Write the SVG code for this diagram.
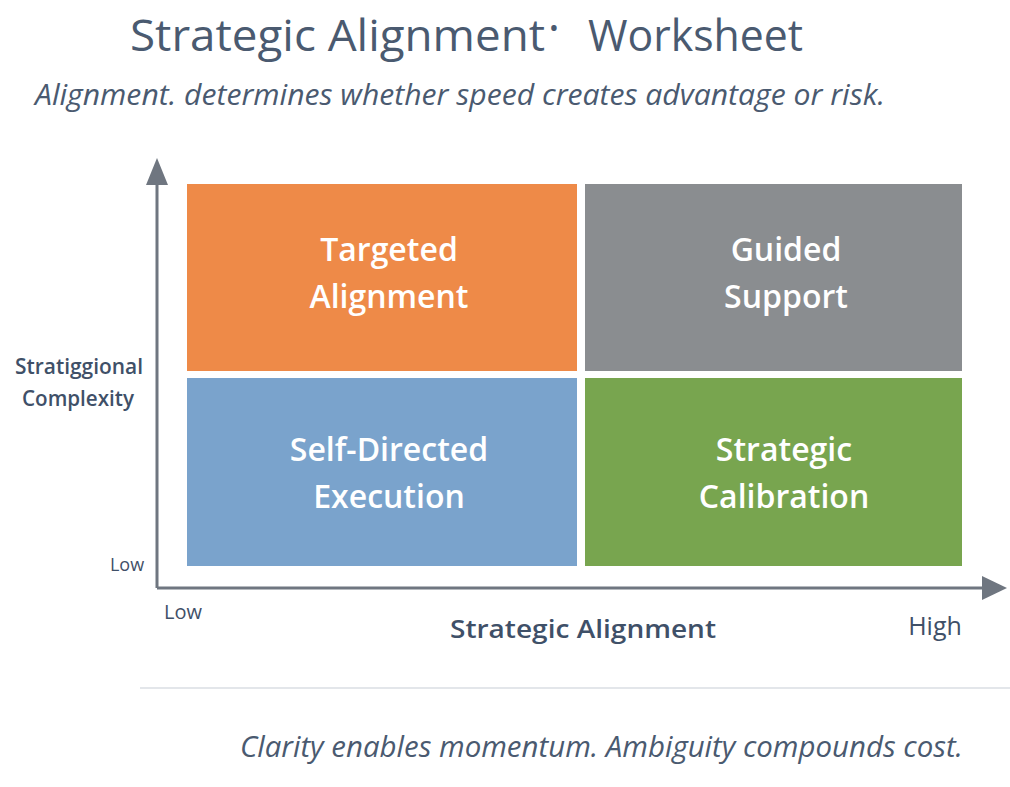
<svg xmlns="http://www.w3.org/2000/svg" width="1010" height="787" viewBox="0 0 1010 787">
<style>
.t{font-family:"Open Sans","Noto Sans","DejaVu Sans",sans-serif;fill:#4a5a70}
.q{font-family:"Open Sans","Noto Sans",sans-serif;fill:#ffffff;font-size:32px;font-weight:600;text-anchor:middle}
.ax{font-family:"Open Sans","Noto Sans",sans-serif;fill:#3f5068}
.axis{stroke:#6f7680;stroke-width:3;fill:none}
</style>
<rect width="1010" height="787" fill="#ffffff"/>
<g id="title">
<text class="t" x="130" y="51" font-size="44" textLength="415" lengthAdjust="spacingAndGlyphs">Strategic Alignment</text>
<text class="t" x="554" y="37" font-size="26" text-anchor="middle">•</text>
<text class="t" x="588" y="51" font-size="44" textLength="215" lengthAdjust="spacingAndGlyphs">Worksheet</text>
<text class="t" x="35" y="105" font-size="29" font-style="italic" textLength="850" lengthAdjust="spacingAndGlyphs">Alignment. determines whether speed creates advantage or risk.</text>
</g>
<g id="connectors">
<path class="axis" d="M157,588 V183"/>
<path d="M157,158 L146,185 L168,185 z" fill="#6f7680"/>
<path class="axis" d="M157,588 H985"/>
<path d="M1007,588 L982,576 L982,600 z" fill="#6f7680"/>
</g>
<g id="q-targeted">
<rect x="187" y="184" width="390" height="187" fill="#ee8a48"/>
<text class="q" x="389" y="261">Targeted</text>
<text class="q" x="389" y="308">Alignment</text>
</g>
<g id="q-guided">
<rect x="585" y="184" width="377" height="187" fill="#8a8d90"/>
<text class="q" x="786" y="261">Guided</text>
<text class="q" x="786" y="308">Support</text>
</g>
<g id="q-self">
<rect x="187" y="378" width="390" height="188" fill="#7aa3cc"/>
<text class="q" x="389" y="461">Self-Directed</text>
<text class="q" x="389" y="508">Execution</text>
</g>
<g id="q-calibration">
<rect x="585" y="378" width="377" height="188" fill="#78a54f"/>
<text class="q" x="784" y="461">Strategic</text>
<text class="q" x="784" y="508">Calibration</text>
</g>
<g id="labels">
<text class="ax" x="79" y="374" font-size="22" font-weight="600" text-anchor="middle" textLength="128" lengthAdjust="spacingAndGlyphs">Stratiggional</text>
<text class="ax" x="78" y="406" font-size="22" font-weight="600" text-anchor="middle" textLength="112" lengthAdjust="spacingAndGlyphs">Complexity</text>
<text class="ax" x="127" y="571" font-size="18" text-anchor="middle">Low</text>
<text class="ax" x="183" y="619" font-size="20" text-anchor="middle">Low</text>
<text class="ax" x="583" y="638" font-size="26" font-weight="600" text-anchor="middle" textLength="266" lengthAdjust="spacingAndGlyphs">Strategic Alignment</text>
<text class="ax" x="935" y="635" font-size="25" text-anchor="middle">High</text>
</g>
<line x1="140" y1="688" x2="1010" y2="688" stroke="#e3e6ea" stroke-width="2"/>
<g id="footer">
<text class="t" x="240" y="757" font-size="29" font-style="italic" textLength="723" lengthAdjust="spacingAndGlyphs">Clarity enables momentum. Ambiguity compounds cost.</text>
</g>
</svg>
